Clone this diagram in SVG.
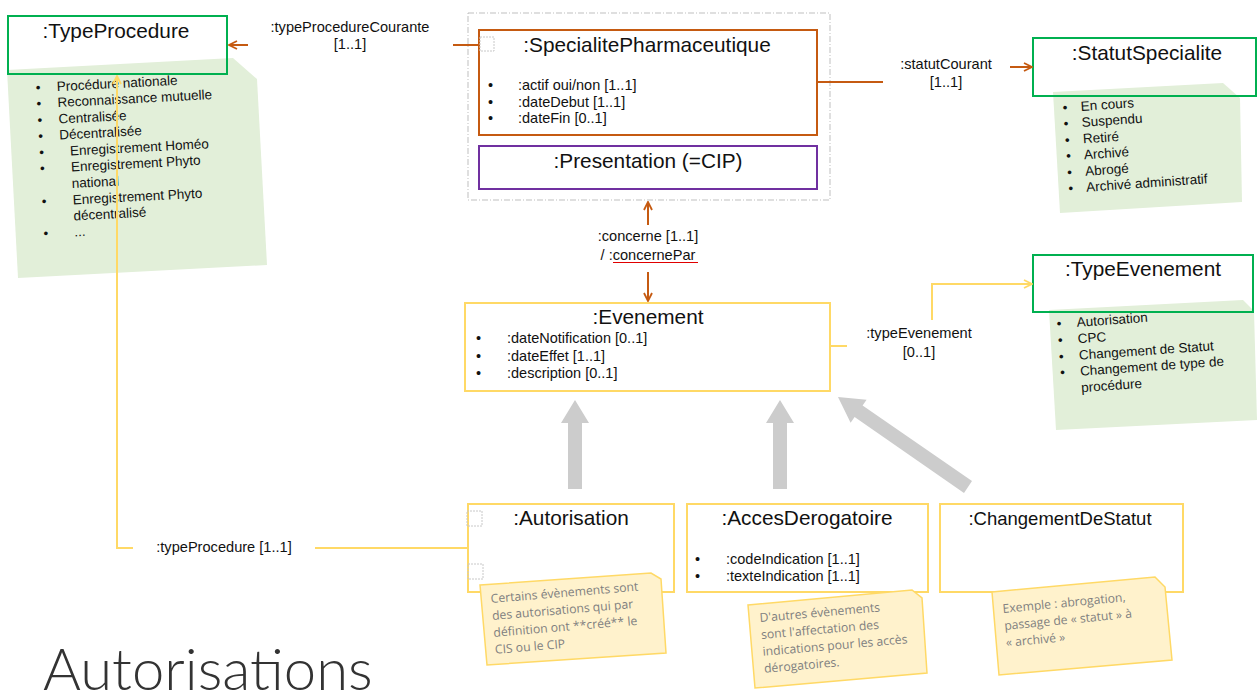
<svg xmlns="http://www.w3.org/2000/svg" width="1258" height="696" viewBox="0 0 1258 696">
<style>
.box{fill:#fff;stroke-width:2}
.frame{fill:none;stroke-width:2}
.g{stroke:#00b050}
.o{stroke:#c55a11}
.p{stroke:#7030a0}
.y{stroke:#ffd966}
.title{font-family:"Liberation Sans",Arial,sans-serif;font-size:20.8px;fill:#111;text-anchor:middle}
.attr{font-family:"Liberation Sans",Arial,sans-serif;font-size:14.5px;fill:#111}
.lbl{font-family:"Liberation Sans",Arial,sans-serif;font-size:14.6px;fill:#111;text-anchor:middle}
.list{font-family:"Liberation Sans",Arial,sans-serif;font-size:13.5px;fill:#111}
.gnote{fill:#e2efd9}
.ynote{fill:#fff2cc;stroke:#ffd966;stroke-width:1.5}
.ntext{font-family:"Open Sans","Liberation Sans",sans-serif;font-size:12.2px;fill:#808080}
.dsq{fill:none;stroke:#c8c8c8;stroke-width:1;stroke-dasharray:2 1}
.co{fill:none;stroke:#c55a11;stroke-width:2}
.cy{fill:none;stroke:#ffd966;stroke-width:2}
.gen{fill:#cccccc}
</style>
<defs>
<marker id="ao" viewBox="0 0 10 10" refX="9" refY="5" markerWidth="10" markerHeight="10" markerUnits="userSpaceOnUse" orient="auto">
<path d="M1,1 L9,5 L1,9" fill="none" stroke="#c55a11" stroke-width="1.8"/>
</marker>
<marker id="ay" viewBox="0 0 10 10" refX="9" refY="5" markerWidth="10" markerHeight="10" markerUnits="userSpaceOnUse" orient="auto">
<path d="M1,1 L9,5 L1,9" fill="none" stroke="#ffd966" stroke-width="1.8"/>
</marker>
</defs>

<g id="TypeProcedure">
<rect class="box" x="8" y="16" width="219" height="58" stroke="none"/>
<polygon class="gnote" points="7,70 233,58 257,79 267,265 18,278"/>
<rect class="frame g" x="8" y="16" width="219" height="58"/>
<text class="title" x="116" y="38">:TypeProcedure</text>
<g transform="rotate(-3 40 92)" class="list">
<text x="36" y="92">•</text><text x="57" y="92">Procédure nationale</text>
<text x="36" y="108">•</text><text x="57" y="108">Reconnaissance mutuelle</text>
<text x="36" y="124.5">•</text><text x="57" y="124.5">Centralisée</text>
<text x="36" y="140.5">•</text><text x="57" y="140.5">Décentralisée</text>
<text x="36" y="157">•</text><text x="67" y="157">Enregistrement Homéo</text>
<text x="36" y="173">•</text><text x="67" y="173">Enregistrement Phyto</text>
<text x="67" y="189.5">national</text>
<text x="36" y="206">•</text><text x="67" y="206">Enregistrement Phyto</text>
<text x="67" y="222">décentralisé</text>
<text x="36" y="238">•</text><text x="67" y="238">...</text>
</g>
</g>

<g id="Container">
<rect x="468" y="13" width="362" height="187" fill="none" stroke="#bfbfbf" stroke-width="1" stroke-dasharray="6 2 1 2"/>
</g>

<g id="SpecialitePharmaceutique">
<rect class="box o" x="479" y="30" width="338" height="105"/>
<rect class="dsq" x="480" y="37" width="14" height="14"/>
<text class="title" x="647" y="52">:SpecialitePharmaceutique</text>
<text class="attr" x="488" y="90">•</text><text class="attr" x="518" y="90">:actif oui/non [1..1]</text>
<text class="attr" x="488" y="107">•</text><text class="attr" x="518" y="107">:dateDebut [1..1]</text>
<text class="attr" x="488" y="123">•</text><text class="attr" x="518" y="123">:dateFin [0..1]</text>
</g>

<g id="Presentation">
<rect class="box p" x="479" y="146" width="338" height="43"/>
<text class="title" x="648" y="168">:Presentation (=CIP)</text>
</g>

<g id="StatutSpecialite">
<rect class="box" x="1033" y="38" width="223" height="58" stroke="none"/>
<polygon class="gnote" points="1053,92 1223,83 1240,98 1242,202 1060,213"/>
<rect class="frame g" x="1033" y="38" width="223" height="58"/>
<text class="title" x="1147" y="60">:StatutSpecialite</text>
<g transform="rotate(-4 1066 112)" class="list">
<text x="1063" y="112">•</text><text x="1081" y="112">En cours</text>
<text x="1063" y="128">•</text><text x="1081" y="128">Suspendu</text>
<text x="1063" y="144.5">•</text><text x="1081" y="144.5">Retiré</text>
<text x="1063" y="160.5">•</text><text x="1081" y="160.5">Archivé</text>
<text x="1063" y="177">•</text><text x="1081" y="177">Abrogé</text>
<text x="1063" y="193">•</text><text x="1081" y="193">Archivé administratif</text>
</g>
</g>

<g id="Evenement">
<rect class="box y" x="465" y="303" width="365" height="88"/>
<text class="title" x="648" y="324">:Evenement</text>
<text class="attr" x="476" y="343">•</text><text class="attr" x="507" y="343">:dateNotification [0..1]</text>
<text class="attr" x="476" y="361">•</text><text class="attr" x="507" y="361">:dateEffet [1..1]</text>
<text class="attr" x="476" y="378">•</text><text class="attr" x="507" y="378">:description [0..1]</text>
</g>

<g id="TypeEvenement">
<rect class="box" x="1033" y="255" width="220" height="57" stroke="none"/>
<polygon class="gnote" points="1049,310 1243,300 1254,311 1257,420 1056,430"/>
<rect class="frame g" x="1033" y="255" width="220" height="57"/>
<text class="title" x="1143" y="276">:TypeEvenement</text>
<g transform="rotate(-4 1060 328)" class="list">
<text x="1057" y="328">•</text><text x="1077" y="328">Autorisation</text>
<text x="1057" y="344.5">•</text><text x="1077" y="344.5">CPC</text>
<text x="1057" y="361">•</text><text x="1077" y="361">Changement de Statut</text>
<text x="1057" y="377">•</text><text x="1077" y="377">Changement de type de</text>
<text x="1077" y="393.5">procédure</text>
</g>
</g>

<g id="Autorisation">
<rect class="box y" x="468" y="504" width="206" height="88"/>
<rect class="dsq" x="467" y="511" width="15" height="15"/>
<rect class="dsq" x="468" y="564" width="15" height="15"/>
<text class="title" x="571" y="525">:Autorisation</text>
<polygon class="ynote" points="480,585 651,573 661,579 666,653 487,665"/>
<g transform="rotate(-4.8 491 603)" class="ntext">
<text x="491" y="603">Certains évènements sont</text>
<text x="491" y="620">des autorisations qui par</text>
<text x="491" y="637">définition ont **créé** le</text>
<text x="491" y="654">CIS ou le CIP</text>
</g>
</g>

<g id="AccesDerogatoire">
<rect class="box y" x="687" y="504" width="241" height="88"/>
<text class="title" x="807" y="525">:AccesDerogatoire</text>
<text class="attr" x="695" y="564">•</text><text class="attr" x="726" y="564">:codeIndication [1..1]</text>
<text class="attr" x="695" y="581">•</text><text class="attr" x="726" y="581">:texteIndication [1..1]</text>
<polygon class="ynote" points="748,605 912,590 922,598 927,673 755,688"/>
<g transform="rotate(-5 760 622)" class="ntext">
<text x="760" y="622">D'autres évènements</text>
<text x="760" y="639">sont l'affectation des</text>
<text x="760" y="656">indications pour les accès</text>
<text x="760" y="673">dérogatoires.</text>
</g>
</g>

<g id="ChangementDeStatut">
<rect class="box y" x="940" y="504" width="243" height="88"/>
<text class="title" x="1060" y="525" style="font-size:18.5px">:ChangementDeStatut</text>
<polygon class="ynote" points="992,592 1155,577 1165,587 1172,660 999,675"/>
<g transform="rotate(-5.5 1003 613)" class="ntext">
<text x="1003" y="613">Exemple : abrogation,</text>
<text x="1003" y="630">passage de « statut » à</text>
<text x="1003" y="647">« archivé »</text>
</g>
</g>

<g id="connectors">
<path class="co" d="M479,45 L453,45"/>
<path class="co" d="M248,45 L229,45" marker-end="url(#ao)"/>
<text class="lbl" x="350" y="32">:typeProcedureCourante</text>
<text class="lbl" x="350" y="49">[1..1]</text>

<path class="co" d="M817,82 L883,82"/>
<path class="co" d="M1010,67 L1032,67" marker-end="url(#ao)"/>
<text class="lbl" x="946" y="69">:statutCourant</text>
<text class="lbl" x="946" y="87">[1..1]</text>

<path class="co" d="M648,225 L648,202" marker-end="url(#ao)"/>
<path class="co" d="M648,272 L648,301" marker-end="url(#ao)"/>
<text class="lbl" x="648" y="241">:concerne [1..1]</text>
<text class="lbl" x="648" y="260">/ :concernePar</text>
<line x1="613" y1="262.5" x2="698" y2="262.5" stroke="#e00000" stroke-width="1"/>

<path class="cy" d="M830,346 L847,346"/>
<path class="cy" d="M932,320 L932,284 L1032,284" marker-end="url(#ay)"/>
<text class="lbl" x="919" y="338">:typeEvenement</text>
<text class="lbl" x="919" y="357">[0..1]</text>

<path class="cy" d="M468,548 L315,548"/>
<path class="cy" d="M133,548 L117,548 L117,76" marker-end="url(#ay)"/>
<text class="lbl" x="224" y="552">:typeProcedure [1..1]</text>

<polygon class="gen" points="568,489 582,489 582,423 589,423 575,400 561,423 568,423"/>
<polygon class="gen" points="773,489 787,489 787,423 794,423 780,400 766,423 773,423"/>
<polygon class="gen" points="972,481 964,493 854.6,417 850.6,422.7 838,397 866.6,399.7 862.6,405.4"/>
</g>

<text x="43" y="690" style="font-family:Lato,'Open Sans',sans-serif;font-weight:300;font-size:58px;fill:#333">Autorisations</text>
</svg>
